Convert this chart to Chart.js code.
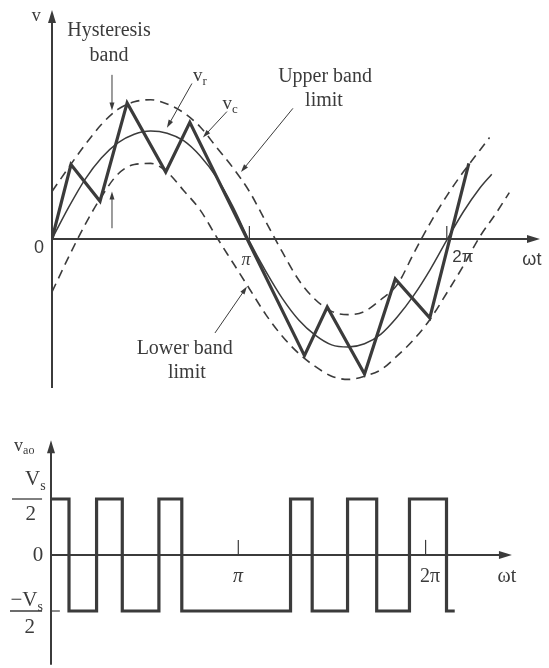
<!DOCTYPE html>
<html>
<head>
<meta charset="utf-8">
<script src="https://cdn.jsdelivr.net/npm/chart.js@4.4.0/dist/chart.umd.min.js"></script>
<style>
  body { margin: 0; background: #fff; }
  #wrap { position: relative; width: 549px; height: 668px; background: #fff; }
  canvas { position: absolute; left: 0; }
  #topChart { top: 0; }
  #bottomChart { top: 400px; }
</style>
</head>
<body>
<div id="wrap">
  <canvas id="topChart" width="549" height="400"></canvas>
  <canvas id="bottomChart" width="549" height="268"></canvas>
</div>
<script>
// angles are ωt in degrees, values normalised to the reference peak
const refAngle = [0, 15, 30, 45, 60, 75, 90, 105, 120, 135, 150, 165, 180, 195, 210, 225, 240, 255, 270, 285, 300, 315, 330, 345, 360, 375, 390, 401];
const refValue = [0, 0.29, 0.55, 0.75, 0.89, 0.97, 1.0, 0.98, 0.91, 0.77, 0.57, 0.30, -0.02, -0.30, -0.55, -0.75, -0.89, -0.98, -1.0, -0.97, -0.88, -0.72, -0.52, -0.28, -0.01, 0.25, 0.47, 0.60];

const upperAngle = [0, 15, 30, 45, 60, 75, 90, 105, 120, 135, 150, 165, 180, 195, 210, 225, 240, 255, 270, 285, 300, 315, 330, 345, 360, 375, 390, 399];
const upperValue = [0.44, 0.66, 0.87, 1.06, 1.20, 1.27, 1.29, 1.25, 1.17, 1.04, 0.85, 0.66, 0.44, 0.16, -0.12, -0.38, -0.56, -0.67, -0.70, -0.67, -0.56, -0.42, -0.13, 0.15, 0.40, 0.62, 0.82, 0.94];

const lowerAngle = [0, 15, 30, 45, 60, 75, 90, 105, 120, 135, 150, 165, 180, 195, 210, 225, 240, 255, 270, 285, 300, 315, 330, 345, 360, 375, 390, 405, 417];
const lowerValue = [-0.49, -0.17, 0.13, 0.39, 0.60, 0.69, 0.70, 0.62, 0.45, 0.27, 0.02, -0.22, -0.46, -0.70, -0.90, -1.06, -1.18, -1.27, -1.30, -1.27, -1.21, -1.08, -0.93, -0.74, -0.50, -0.25, 0.02, 0.24, 0.43];

// switching instants (band hits), shared by v_c corners and v_ao edges
const switchAngle = [17.3, 43.8, 68.5, 103.7, 125.7, 230.2, 251, 285, 313, 344.5, 380.1];
const vcValue = [0, 0.69, 0.35, 1.26, 0.62, 1.08, -1.08, -0.63, -1.25, -0.37, -0.73, 0.70];
const vaoLevel = [1, -1, 1, -1, 1, -1, 1, -1, 1, -1, 1, -1, -1];
const vaoEnd = 388;

const tickAngle = [180, 360];
const tickText = ['π', '2π'];

const INK = '#3b3b3b';
const SERIF = '"Liberation Serif", "DejaVu Serif", serif';
const SANS = '"DejaVu Sans", "Liberation Sans", sans-serif';

const pts = (xs, ys) => xs.map((x, i) => ({ x: x, y: ys[i] }));

function arrow(ctx, x1, y1, x2, y2, head, half, lw) {
  const a = Math.atan2(y2 - y1, x2 - x1);
  ctx.lineWidth = lw;
  ctx.beginPath();
  ctx.moveTo(x1, y1);
  ctx.lineTo(x2 - head * 0.8 * Math.cos(a), y2 - head * 0.8 * Math.sin(a));
  ctx.stroke();
  ctx.beginPath();
  ctx.moveTo(x2, y2);
  ctx.lineTo(x2 - head * Math.cos(a) + half * Math.sin(a), y2 - head * Math.sin(a) - half * Math.cos(a));
  ctx.lineTo(x2 - head * Math.cos(a) - half * Math.sin(a), y2 - head * Math.sin(a) + half * Math.cos(a));
  ctx.closePath();
  ctx.fill();
}

function text(ctx, str, x, y, font, align) {
  ctx.font = font;
  ctx.textAlign = align || 'center';
  ctx.textBaseline = 'middle';
  ctx.fillText(str, x, y);
}

// letter with subscript, left edge at x
function subText(ctx, main, sub, x, y, size) {
  ctx.font = size + 'px ' + SERIF;
  ctx.textAlign = 'left';
  ctx.textBaseline = 'middle';
  ctx.fillText(main, x, y);
  const w = ctx.measureText(main).width;
  ctx.font = Math.round(size * 0.68) + 'px ' + SERIF;
  ctx.fillText(sub, x + w, y + size * 0.3);
}

const topSketch = {
  id: 'topSketch',
  beforeDatasetsDraw(chart) {
    const { ctx } = chart;
    const X = v => chart.scales.x.getPixelForValue(v);
    const Y = v => chart.scales.y.getPixelForValue(v);
    ctx.save();
    ctx.strokeStyle = INK;
    ctx.fillStyle = INK;
    arrow(ctx, X(0), Y(-1.38), X(0), Y(2.12), 13, 4, 2);
    arrow(ctx, X(0), Y(0), X(445), Y(0), 13, 4, 2);
    ctx.lineWidth = 1.2;
    tickAngle.forEach(a => {
      ctx.beginPath();
      ctx.moveTo(X(a), Y(0));
      ctx.lineTo(X(a), Y(0.12));
      ctx.stroke();
    });
    ctx.restore();
  },
  afterDatasetsDraw(chart) {
    const { ctx } = chart;
    const X = v => chart.scales.x.getPixelForValue(v);
    const Y = v => chart.scales.y.getPixelForValue(v);
    ctx.save();
    ctx.strokeStyle = INK;
    ctx.fillStyle = INK;
    subText(ctx, 'v', '', X(-18.5), Y(2.06), 18);
    text(ctx, 'Hysteresis', X(52), Y(1.93), '20px ' + SERIF);
    text(ctx, 'band', X(52), Y(1.70), '20px ' + SERIF);
    arrow(ctx, X(54.7), Y(1.52), X(54.7), Y(1.19), 8, 2.5, 1);
    arrow(ctx, X(54.7), Y(0.10), X(54.7), Y(0.44), 8, 2.5, 1);
    subText(ctx, 'v', 'r', X(128.5), Y(1.51), 19);
    arrow(ctx, X(127.6), Y(1.44), X(104.8), Y(1.03), 8, 2.5, 1);
    subText(ctx, 'v', 'c', X(155.5), Y(1.25), 19);
    arrow(ctx, X(159.5), Y(1.18), X(137.6), Y(0.94), 8, 2.5, 1);
    text(ctx, 'Upper band', X(249), Y(1.50), '20px ' + SERIF);
    text(ctx, 'limit', X(248), Y(1.28), '20px ' + SERIF);
    arrow(ctx, X(219.7), Y(1.21), X(172.3), Y(0.62), 8, 2.5, 1);
    text(ctx, 'Lower band', X(121), Y(-1.02), '20px ' + SERIF);
    text(ctx, 'limit', X(123), Y(-1.24), '20px ' + SERIF);
    arrow(ctx, X(148.6), Y(-0.87), X(177.8), Y(-0.44), 8, 2.5, 1);
    text(ctx, '0', X(-11.8), Y(-0.08), '18px "Liberation Sans", sans-serif');
    text(ctx, tickText[0], X(176.8), Y(-0.20), 'italic 18px ' + SERIF);
    text(ctx, tickText[1], X(374.7), Y(-0.17), '17px "Liberation Sans", sans-serif');
    text(ctx, 'ωt', X(437.6), Y(-0.19), '18px "Liberation Sans", sans-serif');
    ctx.restore();
  }
};

const bottomSketch = {
  id: 'bottomSketch',
  beforeDatasetsDraw(chart) {
    const { ctx } = chart;
    const X = v => chart.scales.x.getPixelForValue(v);
    const Y = v => chart.scales.y.getPixelForValue(v);
    ctx.save();
    ctx.strokeStyle = INK;
    ctx.fillStyle = INK;
    arrow(ctx, X(0), Y(-1.96), X(0), Y(2.05), 13, 4, 2);
    arrow(ctx, X(0), Y(0), X(443), Y(0), 13, 4, 2);
    ctx.lineWidth = 1.2;
    tickAngle.forEach(a => {
      ctx.beginPath();
      ctx.moveTo(X(a), Y(0));
      ctx.lineTo(X(a), Y(0.27));
      ctx.stroke();
    });
    ctx.beginPath();
    ctx.moveTo(X(0), Y(-1));
    ctx.lineTo(X(8.5), Y(-1));
    ctx.stroke();
    ctx.restore();
  },
  afterDatasetsDraw(chart) {
    const { ctx } = chart;
    const X = v => chart.scales.x.getPixelForValue(v);
    const Y = v => chart.scales.y.getPixelForValue(v);
    ctx.save();
    ctx.strokeStyle = INK;
    ctx.fillStyle = INK;
    ctx.lineWidth = 1.3;
    subText(ctx, 'v', 'ao', X(-35.5), Y(1.95), 18);
    // V_s / 2
    subText(ctx, 'V', 's', X(-25), Y(1.34), 21);
    ctx.beginPath();
    ctx.moveTo(X(-37.5), Y(1.0));
    ctx.lineTo(X(-8.6), Y(1.0));
    ctx.stroke();
    text(ctx, '2', X(-19.5), Y(0.73), '21px ' + SERIF);
    text(ctx, '0', X(-12.5), Y(0), '21px ' + SERIF);
    // -V_s / 2
    subText(ctx, '−V', 's', X(-39), Y(-0.82), 21);
    ctx.beginPath();
    ctx.moveTo(X(-39.4), Y(-1.0));
    ctx.lineTo(X(-8.6), Y(-1.0));
    ctx.stroke();
    text(ctx, '2', X(-20.5), Y(-1.30), '21px ' + SERIF);
    text(ctx, tickText[0], X(179.7), Y(-0.39), 'italic 20px ' + SERIF);
    text(ctx, tickText[1], X(364.2), Y(-0.39), '20px ' + SERIF);
    text(ctx, 'ωt', X(438.2), Y(-0.39), '20px ' + SERIF);
    ctx.restore();
  }
};

const common = {
  responsive: false,
  animation: false,
  events: [],
  plugins: { legend: { display: false }, tooltip: { enabled: false } },
  elements: { point: { radius: 0 } }
};

new Chart(document.getElementById('topChart'), {
  type: 'line',
  data: {
    datasets: [
      { data: pts([0].concat(switchAngle), vcValue), borderColor: INK, borderWidth: 3.2, tension: 0, borderJoinStyle: 'miter' },
      { data: pts(refAngle, refValue), borderColor: INK, borderWidth: 1.5, cubicInterpolationMode: 'monotone' },
      { data: pts(upperAngle, upperValue), borderColor: INK, borderWidth: 1.6, borderDash: [9, 6], cubicInterpolationMode: 'monotone' },
      { data: pts(lowerAngle, lowerValue), borderColor: INK, borderWidth: 1.6, borderDash: [9, 6], cubicInterpolationMode: 'monotone' }
    ]
  },
  options: Object.assign({}, common, {
    layout: { padding: { left: 52, right: 9, top: 8, bottom: 2 } },
    scales: {
      x: { type: 'linear', min: 0, max: 445, display: false },
      y: { type: 'linear', min: -1.472, max: 2.139, display: false }
    }
  }),
  plugins: [topSketch]
});

new Chart(document.getElementById('bottomChart'), {
  type: 'line',
  data: {
    datasets: [
      { data: pts([0].concat(switchAngle, [vaoEnd]), vaoLevel), borderColor: INK, borderWidth: 3.2, stepped: 'before', borderJoinStyle: 'miter', borderCapStyle: 'butt' }
    ]
  },
  options: Object.assign({}, common, {
    layout: { padding: { left: 51, right: 36, top: 36, bottom: 2 } },
    scales: {
      x: { type: 'linear', min: 0, max: 444, display: false },
      y: { type: 'linear', min: -1.982, max: 2.125, display: false }
    }
  }),
  plugins: [bottomSketch]
});
</script>
</body>
</html>
